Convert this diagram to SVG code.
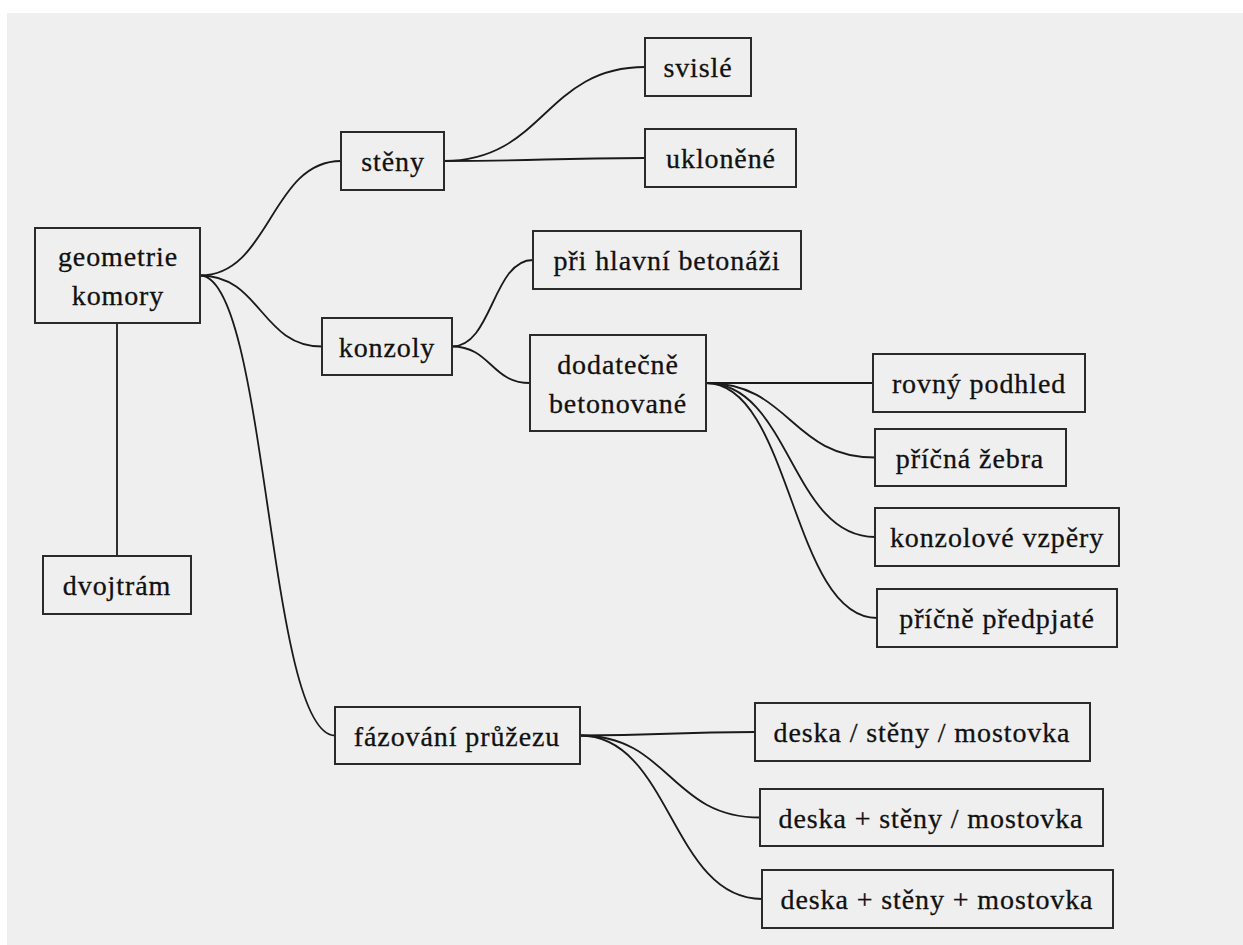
<svg xmlns="http://www.w3.org/2000/svg" width="1243" height="945" viewBox="0 0 1243 945">
<style>
.box{fill:none;stroke:#2a2a2a;stroke-width:2}
.t{font-family:'Liberation Serif','Times New Roman',serif;font-size:28px;letter-spacing:0.9px;fill:#111;stroke:#111;stroke-width:0.3;text-anchor:middle}
.c{fill:none;stroke:#1a1a1a;stroke-width:1.8}
</style>
<rect x="0" y="0" width="1243" height="945" fill="#ffffff"/>
<rect x="7" y="13" width="1236" height="932" fill="#efefef"/>
<g id="connectors">
<path class="c" d="M200,275.5 C270.5,275.5 270.5,161 341,161"/>
<path class="c" d="M200,275.5 C261,275.5 261,346.5 322,346.5"/>
<path class="c" d="M200,275.5 C267.5,275.5 267.5,735.5 335,735.5"/>
<path class="c" d="M117,323 L117,556"/>
<path class="c" d="M444,161 C544.5,161 544.5,67 645,67"/>
<path class="c" d="M444,161 C544.5,161 544.5,158 645,158"/>
<path class="c" d="M452,346.5 C492.5,346.5 492.5,260 533,260"/>
<path class="c" d="M452,346.5 C491,346.5 491,383 530,383"/>
<path class="c" d="M706,383 C789.5,383 789.5,383 873,383"/>
<path class="c" d="M706,383 C790.5,383 790.5,457.5 875,457.5"/>
<path class="c" d="M706,383 C790.5,383 790.5,537 875,537"/>
<path class="c" d="M706,383 C791.5,383 791.5,618 877,618"/>
<path class="c" d="M580,735.5 C667.5,735.5 667.5,732 755,732"/>
<path class="c" d="M580,735.5 C670,735.5 670,817.5 760,817.5"/>
<path class="c" d="M580,735.5 C671,735.5 671,899 762,899"/>
</g>
<g id="n-geometrie"><rect class="box" x="35" y="228" width="165" height="95"/><text class="t" x="118" y="266">geometrie</text><text class="t" x="118" y="305">komory</text></g>
<g id="n-steny"><rect class="box" x="341" y="132" width="103" height="58"/><text class="t" x="393" y="171">stěny</text></g>
<g id="n-svisle"><rect class="box" x="645" y="38" width="106" height="58"/><text class="t" x="698" y="77">svislé</text></g>
<g id="n-uklonene"><rect class="box" x="645" y="129" width="151" height="58"/><text class="t" x="721" y="168">ukloněné</text></g>
<g id="n-pri"><rect class="box" x="533" y="231" width="268" height="58"/><text class="t" x="667" y="270">při hlavní betonáži</text></g>
<g id="n-konzoly"><rect class="box" x="322" y="318" width="130" height="57"/><text class="t" x="387" y="357">konzoly</text></g>
<g id="n-dodatecne"><rect class="box" x="530" y="335" width="176" height="96"/><text class="t" x="618" y="374">dodatečně</text><text class="t" x="618" y="413">betonované</text></g>
<g id="n-rovny"><rect class="box" x="873" y="354" width="212" height="58"/><text class="t" x="979" y="393">rovný podhled</text></g>
<g id="n-zebra"><rect class="box" x="875" y="429" width="191" height="57"/><text class="t" x="970" y="468">příčná žebra</text></g>
<g id="n-vzpery"><rect class="box" x="875" y="508" width="244" height="58"/><text class="t" x="997" y="547">konzolové vzpěry</text></g>
<g id="n-predpjate"><rect class="box" x="877" y="589" width="240" height="58"/><text class="t" x="997" y="628">příčně předpjaté</text></g>
<g id="n-dvojtram"><rect class="box" x="43" y="556" width="148" height="58"/><text class="t" x="117" y="595">dvojtrám</text></g>
<g id="n-fazovani"><rect class="box" x="335" y="707" width="245" height="57"/><text class="t" x="457" y="746">fázování průžezu</text></g>
<g id="n-deska1"><rect class="box" x="755" y="703" width="335" height="58"/><text class="t" x="922" y="742">deska / stěny / mostovka</text></g>
<g id="n-deska2"><rect class="box" x="760" y="789" width="343" height="57"/><text class="t" x="931" y="828">deska + stěny / mostovka</text></g>
<g id="n-deska3"><rect class="box" x="762" y="870" width="351" height="58"/><text class="t" x="937" y="909">deska + stěny + mostovka</text></g>
</svg>
